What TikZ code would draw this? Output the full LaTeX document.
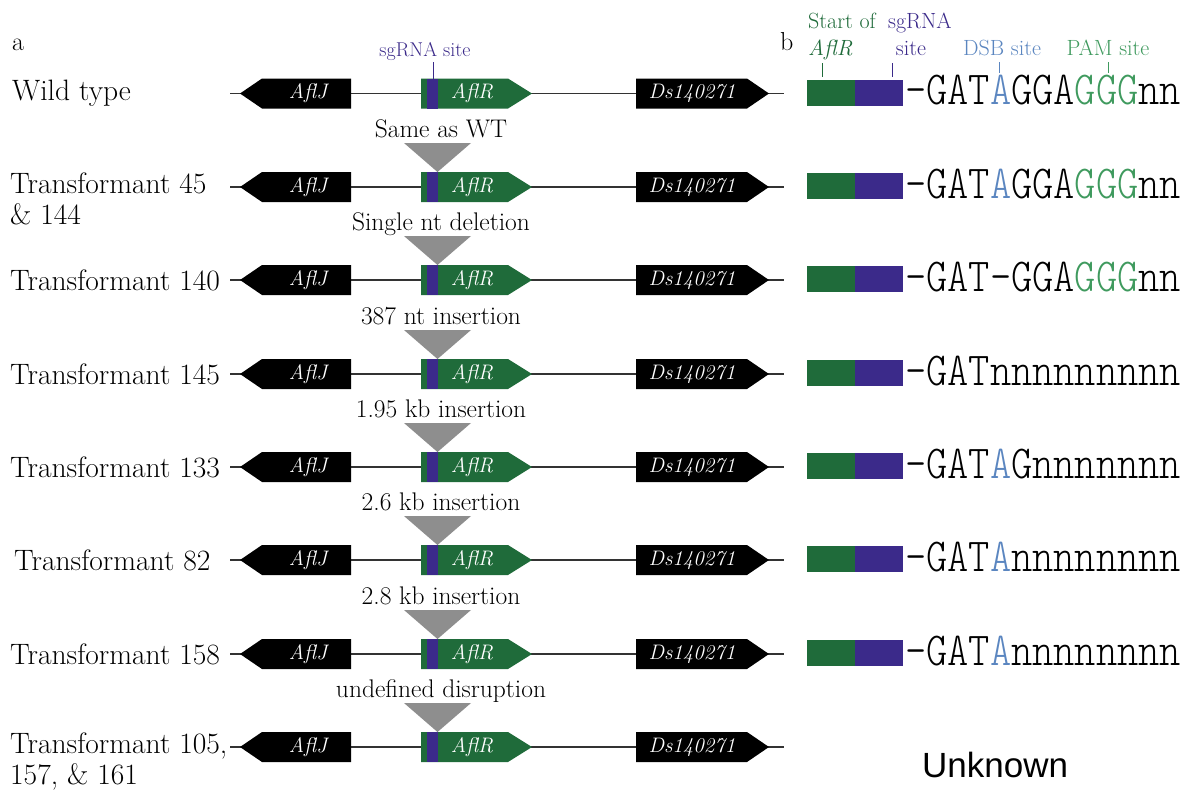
\documentclass[tikz,border=0pt]{standalone}
\usepackage{fontspec}
\newfontfamily\unkfont{Liberation Sans}
\newfontfamily\seqfont{lmmonolt10-regular.otf}
\definecolor{gG}{HTML}{1F6B3A}
\definecolor{pP}{HTML}{3B2A8A}
\definecolor{bL}{HTML}{5B86C0}
\definecolor{gL}{HTML}{3F9A5E}
\definecolor{triC}{HTML}{8E8E8E}
\tikzset{
  rowlab/.style={anchor=west, font=\fontsize{29.5}{33}\selectfont, align=left, inner sep=0pt},
  genelab/.style={text=white, font=\fontsize{21}{24}\selectfont\itshape, inner sep=0pt},
  insl/.style={anchor=base, font=\fontsize{25.5}{28}\selectfont, inner sep=0pt},
  hdr/.style={anchor=base, font=\fontsize{22}{24}\selectfont, inner sep=0pt},
  panel/.style={anchor=base west, font=\fontsize{26}{28}\selectfont, inner sep=0pt},
  backbone/.style={line width=1.3pt, draw=black!80},
  seqtxt/.style={anchor=base west, inner sep=0pt, font=\fontsize{40.4}{44}\seqfont},
  tick/.style={line width=1pt},
}
\newcommand{\GeneRow}[2]{%
  \coordinate (#1s) at (230,#2);
  \coordinate (#1e) at (784,#2);
  \draw[backbone] (#1s) -- (#1e);
  \fill[black] (240,#2) -- (262,#2-15) -- (351,#2-15) -- (351,#2+15) -- (262,#2+15) -- cycle;
  \fill[gG] (421,#2-15) -- (508,#2-15) -- (532,#2) -- (508,#2+15) -- (421,#2+15) -- cycle;
  \fill[pP] (427,#2-15) rectangle (438,#2+15);
  \fill[black] (636,#2-15) -- (747,#2-15) -- (769,#2) -- (747,#2+15) -- (636,#2+15) -- cycle;
  \node[genelab] (#1J) at (308,#2) {AflJ};
  \node[genelab] (#1R) at (472,#2) {AflR};
  \node[genelab] (#1D) at (692,#2) {Ds140271};
}
\newcommand{\Triangle}[3]{%
  \fill[triC] (404,#2-44) -- (471,#2-44) -- (437.5,#2-15) -- cycle;
  \node[insl] (#1T) at (441,#2-50) {#3};
}
\newcommand{\SeqRow}[3]{%
  \fill[gG] (807,#2-14) rectangle (855,#2+12);
  \fill[pP] (855,#2-14) rectangle (903,#2+12);
  \node[seqtxt] (#1Q) at (905,#2+11) {\scalebox{1}[1.17]{#3}};
}
\begin{document}
\begin{tikzpicture}[x=1pt,y=-1pt]
\path[use as bounding box, fill=white] (0,0) rectangle (1191,807);

% panel letters
\node[panel] (pa) at (12,50) {a};
\node[panel] (pb) at (780,50) {b};

% row labels
\node[rowlab] (l0) at (12,93.5) {Wild type};
\node[rowlab, anchor=north west] (l1) at (10,173) {Transformant 45\\[-2pt]\& 144};
\node[rowlab] (l2) at (10,280) {Transformant 140};
\node[rowlab] (l3) at (10,374) {Transformant 145};
\node[rowlab] (l4) at (10,467) {Transformant 133};
\node[rowlab] (l5) at (14,560) {Transformant 82};
\node[rowlab] (l6) at (10,654) {Transformant 158};
\node[rowlab, anchor=north west] (l7) at (10,733) {Transformant 105,\\[-2pt]157, \& 161};

% gene rows
\GeneRow{r0}{93.5}
\GeneRow{r1}{187}
\GeneRow{r2}{280}
\GeneRow{r3}{374}
\GeneRow{r4}{467}
\GeneRow{r5}{560}
\GeneRow{r6}{654}
\GeneRow{r7}{747}

% sgRNA site label (wild type)
\node[hdr, text=pP, font=\fontsize{20}{22}\selectfont] (sg) at (425,56) {sgRNA site};
\draw[tick, pP] (433,62) -- (433,78.5);

% insertion triangles
\Triangle{r1}{187}{Same as WT}
\Triangle{r2}{280}{Single nt deletion}
\Triangle{r3}{374}{387 nt insertion}
\Triangle{r4}{467}{1.95 kb insertion}
\Triangle{r5}{560}{2.6 kb insertion}
\Triangle{r6}{654}{2.8 kb insertion}
\Triangle{r7}{747}{undefined disruption}

% right panel header
\node[hdr, anchor=base west, text=gG] (h1) at (808,28) {Start of};
\node[hdr, anchor=base west, text=gG] (h2) at (808,55) {\itshape AflR};
\node[hdr, anchor=base west, text=pP] (h3) at (888,28) {sgRNA};
\node[hdr, text=pP] (h4) at (911,55) {site};
\node[hdr, text=bL] (h5) at (1002,55) {DSB site};
\node[hdr, text=gL] (h6) at (1108,55) {PAM site};
\draw[tick, gG] (822,63) -- (822,77);
\draw[tick, pP] (892,63) -- (892,77);
\draw[tick, bL] (999,62) -- (999,73);
\draw[tick, gL] (1108,62) -- (1108,73);

% sequences
\SeqRow{r0}{93.5}{-GAT\textcolor{bL}{A}GGA\textcolor{gL}{GGG}nn}
\SeqRow{r1}{187}{-GAT\textcolor{bL}{A}GGA\textcolor{gL}{GGG}nn}
\SeqRow{r2}{280}{-GAT-GGA\textcolor{gL}{GGG}nn}
\SeqRow{r3}{374}{-GATnnnnnnnnn}
\SeqRow{r4}{467}{-GAT\textcolor{bL}{A}Gnnnnnnn}
\SeqRow{r5}{560}{-GAT\textcolor{bL}{A}nnnnnnnn}
\SeqRow{r6}{654}{-GAT\textcolor{bL}{A}nnnnnnnn}
\node[anchor=base west, inner sep=0pt, font=\fontsize{35}{40}\unkfont] (unk) at (922,777) {Unknown};
\end{tikzpicture}
\end{document}
